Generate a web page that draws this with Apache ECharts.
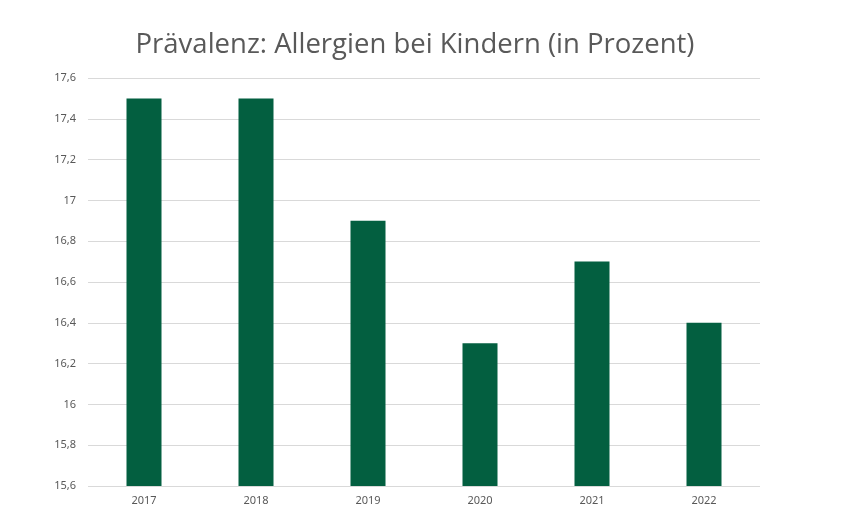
<!DOCTYPE html>
<html><head><meta charset="utf-8">
<script src="https://cdn.jsdelivr.net/npm/echarts@6/dist/echarts.min.js"></script>
<style>html,body{margin:0;padding:0;background:#fff}#c{width:845px;height:527px}</style>
</head><body><div id="c"></div>
<script>
const categories = ['2017','2018','2019','2020','2021','2022'];
const values = [17.5, 17.5, 16.9, 16.3, 16.7, 16.4];
const titleText = 'Prävalenz: Allergien bei Kindern (in Prozent)';

const chart = echarts.init(document.getElementById('c'));
chart.setOption({
  animation: false,
  title: {
    text: titleText,
    left: 410, top: 26, textAlign: 'center',
    textStyle: { fontFamily: '"Open Sans", sans-serif', fontSize: 27.5, fontWeight: 'normal', color: '#595959' }
  },
  grid: { left: 88, right: 85, top: 78, bottom: 41 },
  xAxis: {
    type: 'category', data: categories,
    axisLine: { show: false }, axisTick: { show: false },
    axisLabel: { color: '#595959', fontSize: 11, fontFamily: '"Noto Sans", sans-serif', margin: 9 }
  },
  yAxis: {
    type: 'value', min: 15.6, max: 17.6, interval: 0.2,
    axisLine: { show: false }, axisTick: { show: false },
    axisLabel: {
      color: '#595959', fontSize: 11, fontFamily: '"Noto Sans", sans-serif', margin: 12,
      formatter: v => (Math.round(v * 10) / 10).toString().replace('.', ',')
    },
    splitLine: { lineStyle: { color: '#d9d9d9', width: 1 } }
  },
  series: [{
    type: 'bar', data: values, barWidth: 35,
    itemStyle: { color: '#035f40' }
  }]
});
</script></body></html>
